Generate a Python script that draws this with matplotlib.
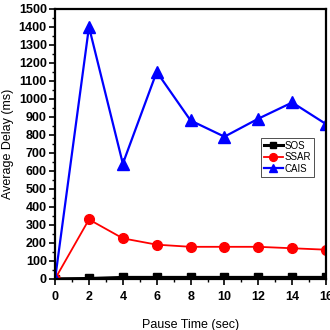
import numpy as np
import matplotlib
matplotlib.use("Agg")
import matplotlib.pyplot as plt
from matplotlib.ticker import MultipleLocator

pause = [0, 2, 4, 6, 8, 10, 12, 14, 16]
sos = [0, 2, 8, 8, 8, 8, 8, 8, 8]
ssar = [0, 330, 225, 190, 178, 178, 178, 170, 162]
cais = [0, 1400, 640, 1150, 880, 790, 890, 980, 860]

plt.rcParams.update({"font.family": ["Liberation Sans", "DejaVu Sans"]})

fig = plt.figure(figsize=(3.3, 3.3), dpi=100)
ax = fig.add_axes([0.167, 0.155, 0.821, 0.818])

ax.plot(pause, sos, color="black", marker="s", ms=6, lw=2.2, label="SOS")
ax.plot(pause, ssar, color="red", marker="o", ms=7, lw=1.3, label="SSAR")
ax.plot(pause, cais, color="blue", marker="^", ms=8, lw=1.6, label="CAIS")

ax.set_xlim(0, 16)
ax.set_ylim(0, 1500)
ax.xaxis.set_major_locator(MultipleLocator(2))
ax.xaxis.set_minor_locator(MultipleLocator(1))
ax.yaxis.set_major_locator(MultipleLocator(100))
ax.yaxis.set_minor_locator(MultipleLocator(50))
ax.tick_params(which="major", direction="out", length=4, width=1.2, labelsize=9, pad=2)
ax.tick_params(axis="x", which="major", pad=5)
ax.tick_params(which="minor", direction="out", length=2.5, width=1)
for lab in ax.get_xticklabels() + ax.get_yticklabels():
    lab.set_fontweight("bold")
for s in ax.spines.values():
    s.set_linewidth(1.6)

ax.set_xlabel("Pause Time (sec)", fontsize=9, labelpad=11)
ax.set_ylabel("Average Delay (ms)", fontsize=9, labelpad=3)

leg = ax.legend(loc="upper right", bbox_to_anchor=(0.975, 0.54), fontsize=7,
                handlelength=2.0, handletextpad=0.2, borderpad=0.3,
                labelspacing=0.15, fancybox=False, framealpha=1,
                edgecolor="#333333", markerscale=0.8)
leg.get_frame().set_linewidth(0.6)

fig.savefig("out.png", dpi=100)
